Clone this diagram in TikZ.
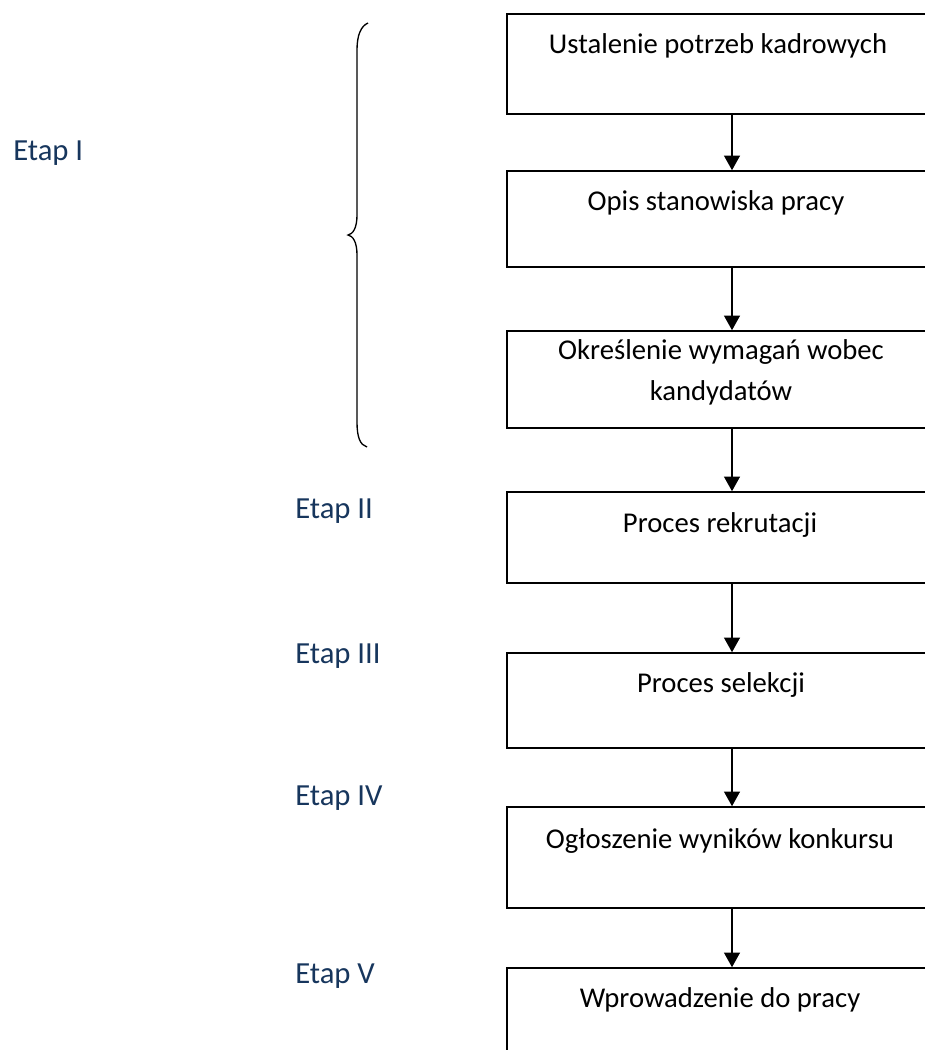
\documentclass[tikz,border=0pt]{standalone}
\usepackage{fontspec}
\setmainfont{Carlito}
\usepackage{xcolor}
\usetikzlibrary{arrows.meta, positioning}
\definecolor{etapblue}{HTML}{17365D}
\tikzset{
  stage/.style={draw, line width=1.2pt, minimum width=375pt, inner sep=0pt},
  stagetext/.style={anchor=base, inner sep=0pt, align=center, font=\fontsize{21.5}{30.75}\selectfont},
  etap/.style={anchor=base west, inner sep=0pt, text=etapblue, font=\fontsize{23}{27}\selectfont},
  flow/.style={line width=1pt, -{Triangle[length=11pt, width=12pt]}},
}

\begin{document}
\begin{tikzpicture}[x=0.75pt,y=0.75pt,yscale=-1,xscale=1]
\useasboundingbox (0,0) rectangle (925,1050);
\clip (0,0) rectangle (925,1050);

% Boxes
\node [stage, minimum height=75pt] (s1) at (757,64) {};
\node [stage, minimum height=72pt] (s2) at (757,219) {};
\node [stage, minimum height=72.75pt] (s3) at (757,379.5) {};
\node [stage, minimum height=68.25pt] (s4) at (757,537.5) {};
\node [stage, minimum height=71.25pt] (s5) at (757,700.5) {};
\node [stage, minimum height=75.75pt] (s6) at (757,857.5) {};
\node [stage, minimum height=75pt] (s7) at (757,1018) {};

% Text Node
\node [stagetext] (t1) at (718,53) {Ustalenie potrzeb kadrowych};
% Text Node
\node [stagetext] (t2) at (716,210) {Opis stanowiska pracy};
% Text Node
\node [stagetext] (t3) at (721,400) {Określenie wymagań wobec\\kandydatów};
% Text Node
\node [stagetext] (t4) at (720,532) {Proces rekrutacji};
% Text Node
\node [stagetext] (t5) at (721,692) {Proces selekcji};
% Text Node
\node [stagetext] (t6) at (720,848) {Ogłoszenie wyników konkursu};
% Text Node
\node [stagetext] (t7) at (720,1007) {Wprowadzenie do pracy};

% Arrows
\coordinate (ax) at (732,0);
\draw [flow] (s1.south -| ax) -- (s2.north -| ax);
\draw [flow] (s2.south -| ax) -- (s3.north -| ax);
\draw [flow] (s3.south -| ax) -- (s4.north -| ax);
\draw [flow] (s4.south -| ax) -- (s5.north -| ax);
\draw [flow] (s5.south -| ax) -- (s6.north -| ax);
\draw [flow] (s6.south -| ax) -- (s7.north -| ax);

% Brace
\draw [line width=1pt] (368,23) .. controls (361,26) and (357,35) .. (357,50) -- (357,215) .. controls (357,228) and (353,234) .. (348,235) .. controls (353,236) and (357,242) .. (357,255) -- (357,422) .. controls (357,437) and (360,445) .. (367,447);

% Etap labels
\node [etap] (e1) at (13,160) {Etap I};
\node [etap] (e2) at (295,518) {Etap II};
\node [etap] (e3) at (295,663) {Etap III};
\node [etap] (e4) at (295,805) {Etap IV};
\node [etap] (e5) at (295,983) {Etap V};

\end{tikzpicture}
\end{document}
